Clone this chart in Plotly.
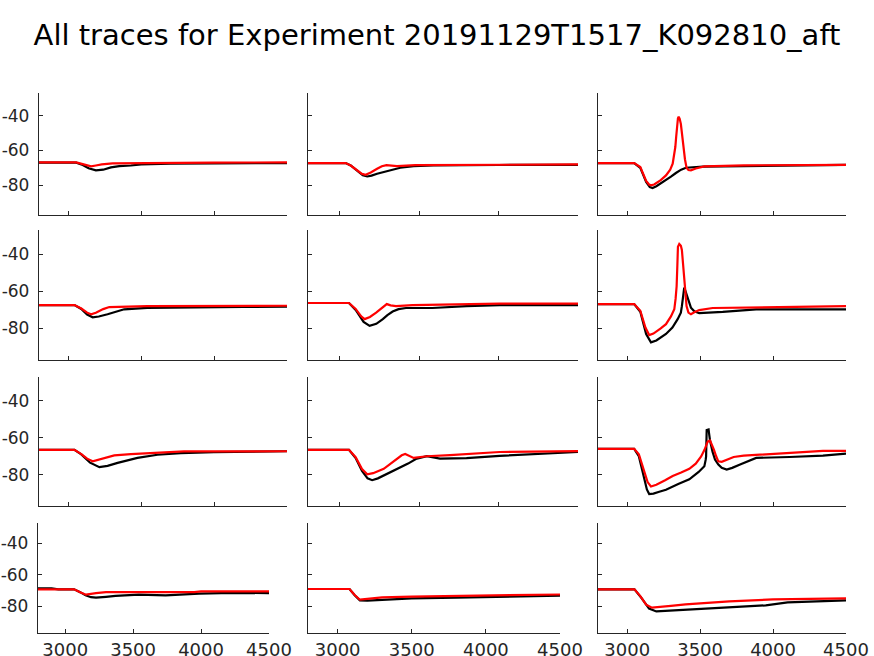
import plotly.graph_objects as go

TITLE = "All traces for Experiment 20191129T1517_K092810_aft"
X_TICKS = [3000, 3500, 4000, 4500]
X_TICK_TEXT = ["3000", "3500", "4000", "4500"]
Y_TICKS = [-80, -60, -40]
Y_TICK_TEXT = ["-80", "-60", "-40"]
X_RANGE = [2800, 4500]
Y_RANGE = [-97, -27]

# ---- data ----
# row 1
r1c1_black_x = [2800, 3055, 3100, 3140, 3190, 3240, 3293, 3350, 3430, 3500, 3700, 4000, 4300, 4500]
r1c1_black_y = [-67, -67, -68.3, -70.2, -71.4, -71.0, -69.7, -69.0, -68.6, -68.0, -67.6, -67.5, -67.2, -67.2]
r1c1_red_x = [2800, 3055, 3100, 3130, 3157, 3190, 3230, 3305, 3500, 4000, 4500]
r1c1_red_y = [-66.8, -66.8, -67.8, -68.7, -69.1, -68.6, -68.0, -67.4, -67.4, -67.0, -66.8]

r1c2_black_x = [2800, 3037, 3069, 3110, 3145, 3173, 3200, 3235, 3298, 3381, 3465, 3590, 4000, 4500]
r1c2_black_y = [-67.2, -67.2, -68.6, -71.6, -74.2, -74.9, -74.4, -73.3, -71.8, -69.9, -69.0, -68.6, -68.3, -68.2]
r1c2_red_x = [2800, 3037, 3069, 3110, 3140, 3163, 3195, 3235, 3265, 3294, 3330, 3360, 3475, 4000, 4500]
r1c2_red_y = [-67.2, -67.2, -68.6, -71.5, -73.4, -73.9, -72.6, -70.5, -69.0, -68.4, -68.9, -69.0, -68.4, -68.1, -68.0]

r1c3_black_x = [2800, 3048, 3090, 3130, 3155, 3174, 3200, 3266, 3300, 3334, 3370, 3403, 3520, 3800, 4200, 4500]
r1c3_black_y = [-67.2, -67.2, -70.0, -78.0, -81.0, -81.5, -80.5, -77.1, -75.0, -72.9, -71.0, -69.9, -69.3, -69.0, -68.6, -68.2]
r1c3_red_x = [2800, 3048, 3090, 3130, 3150, 3163, 3185, 3230, 3266, 3295, 3312, 3322, 3330, 3336, 3342, 3348, 3353,
              3360, 3368, 3377, 3386, 3396, 3407, 3420, 3437, 3470, 3529, 3800, 4500]
r1c3_red_y = [-67.2, -67.2, -69.5, -77.5, -79.5, -80.0, -79.5, -77.0, -74.3, -71.0, -67.6, -63.0, -58.0, -52.0, -44.8, -41.5, -40.6,
              -41.8, -44.8, -52.0, -58.0, -65.0, -69.9, -71.2, -71.4, -70.3, -69.1, -68.5, -68.2]

# row 2
r2c1_black_x = [2800, 3043, 3090, 3130, 3168, 3210, 3270, 3330, 3384, 3542, 3883, 4200, 4500]
r2c1_black_y = [-67.4, -67.4, -69.5, -72.5, -74.0, -73.6, -72.4, -70.8, -69.7, -68.9, -68.5, -68.4, -68.3]
r2c1_red_x = [2800, 3043, 3090, 3130, 3157, 3190, 3240, 3282, 3542, 4000, 4500]
r2c1_red_y = [-67.4, -67.4, -69.3, -71.5, -72.4, -71.6, -69.6, -68.5, -68.0, -67.8, -67.8]

r2c2_black_x = [2800, 3058, 3100, 3150, 3188, 3230, 3271, 3300, 3333, 3370, 3417, 3583, 3798, 4006, 4500]
r2c2_black_y = [-66.3, -66.3, -70.0, -76.5, -78.6, -77.5, -75.0, -72.8, -70.9, -69.6, -69.0, -69.0, -68.0, -67.5, -67.4]
r2c2_red_x = [2800, 3058, 3100, 3135, 3156, 3190, 3229, 3265, 3296, 3320, 3354, 3458, 3798, 4006, 4500]
r2c2_red_y = [-66.3, -66.3, -69.5, -73.5, -75.0, -73.8, -71.5, -68.8, -66.9, -67.6, -68.0, -67.5, -66.9, -66.6, -66.6]

r2c3_black_x = [2800, 3048, 3090, 3130, 3163, 3200, 3266, 3310, 3346, 3360, 3368, 3375, 3380, 3386, 3391, 3398,
                3407, 3420, 3437, 3460, 3494, 3655, 3884, 4500]
r2c3_black_y = [-66.9, -66.9, -71.0, -83.0, -87.5, -86.5, -83.0, -79.5, -75.0, -73.0, -71.5, -68.0, -64.4, -60.0, -58.1, -59.5,
                -61.7, -65.5, -68.8, -70.8, -71.8, -71.1, -69.7, -69.7]
r2c3_red_x = [2800, 3048, 3090, 3125, 3151, 3180, 3230, 3266, 3300, 3323, 3332, 3339, 3344, 3348, 3357, 3368, 3375,
              3383, 3391, 3400, 3407, 3420, 3437, 3460, 3494, 3586, 4500]
r2c3_red_y = [-66.9, -66.9, -70.5, -79.5, -83.6, -82.8, -80.0, -77.7, -73.5, -69.7, -64.0, -57.3, -46.0, -36.0, -34.5, -35.5, -37.7,
              -45.0, -53.7, -63.0, -68.0, -71.5, -72.4, -71.3, -70.1, -69.0, -68.0]

# row 3
r3c1_black_x = [2800, 3043, 3090, 3150, 3214, 3270, 3339, 3400, 3475, 3612, 3771, 3999, 4500]
r3c1_black_y = [-66.5, -66.5, -69.0, -73.5, -75.9, -75.2, -73.6, -72.3, -70.9, -69.2, -68.3, -67.8, -67.3]
r3c1_red_x = [2800, 3043, 3090, 3130, 3168, 3220, 3270, 3316, 3430, 3612, 3794, 4111, 4500]
r3c1_red_y = [-66.5, -66.5, -68.8, -71.3, -72.7, -71.6, -70.3, -69.5, -68.8, -67.9, -67.4, -67.4, -67.3]

r3c2_black_x = [2800, 3058, 3100, 3140, 3175, 3204, 3240, 3277, 3330, 3381, 3430, 3479, 3548, 3631, 3798, 4006, 4500]
r3c2_black_y = [-66.5, -66.5, -71.0, -78.0, -82.0, -83.0, -82.0, -80.4, -78.5, -76.3, -74.0, -71.5, -70.0, -71.3, -71.0, -69.8, -67.7]
r3c2_red_x = [2800, 3058, 3100, 3140, 3173, 3210, 3277, 3320, 3360, 3390, 3412, 3440, 3465, 3548, 3694, 4006, 4500]
r3c2_red_y = [-66.5, -66.5, -70.5, -77.0, -79.8, -79.2, -76.8, -74.0, -71.5, -69.5, -68.8, -70.0, -70.9, -70.0, -69.4, -67.7, -67.2]

r3c3_black_x = [2800, 3048, 3080, 3110, 3135, 3151, 3180, 3220, 3266, 3350, 3426, 3490, 3529, 3538, 3541, 3545, 3558,
                3562, 3568, 3585, 3602, 3625, 3648, 3682, 3720, 3774, 3830, 3884, 4113, 4342, 4500]
r3c3_black_y = [-66.0, -66.0, -70.0, -79.0, -88.0, -90.5, -90.3, -89.3, -88.2, -85.0, -82.5, -78.5, -75.4, -72.0, -70.1, -55.8, -55.5,
                -58.0, -61.5, -67.5, -71.8, -74.5, -76.3, -77.2, -76.3, -74.5, -72.5, -70.9, -70.4, -69.7, -68.6]
r3c3_red_x = [2800, 3048, 3080, 3110, 3140, 3163, 3200, 3260, 3312, 3370, 3426, 3470, 3507, 3530, 3552, 3568, 3580,
              3595, 3610, 3624, 3648, 3690, 3730, 3799, 4113, 4342, 4500]
r3c3_red_y = [-66.0, -66.0, -69.0, -76.0, -84.0, -86.4, -85.5, -83.0, -80.7, -78.8, -76.8, -74.0, -70.1, -66.5, -62.1, -61.5, -63.5,
              -66.5, -70.0, -72.7, -73.0, -71.6, -70.4, -69.7, -68.0, -67.1, -67.1]

# row 4
r4c1_black_x = [2800, 2900, 2950, 3066, 3110, 3150, 3190, 3227, 3300, 3370, 3542, 3739, 3985, 4231, 4500]
r4c1_black_y = [-68.6, -68.6, -69.2, -69.2, -71.0, -73.0, -74.2, -74.5, -74.0, -73.4, -72.6, -73.0, -72.0, -71.5, -71.6]
r4c1_red_x = [2800, 3066, 3110, 3153, 3227, 3300, 3950, 4000, 4500]
r4c1_red_y = [-69.2, -69.2, -71.0, -72.6, -71.6, -71.0, -71.0, -70.5, -70.5]

r4c2_black_x = [2800, 3080, 3115, 3150, 3200, 3300, 3500, 3800, 4000, 4300, 4500]
r4c2_black_y = [-69.0, -69.0, -73.0, -76.2, -76.4, -76.0, -75.0, -74.5, -74.2, -73.6, -73.3]
r4c2_red_x = [2800, 3080, 3115, 3150, 3200, 3300, 3500, 3800, 4100, 4500]
r4c2_red_y = [-69.0, -69.0, -72.8, -75.8, -75.3, -74.3, -73.8, -73.3, -72.8, -72.5]

r4c3_black_x = [2800, 3050, 3100, 3150, 3200, 3260, 3400, 3700, 3950, 4100, 4473, 4500]
r4c3_black_y = [-69.2, -69.2, -75.0, -81.5, -83.3, -83.0, -82.0, -80.7, -79.4, -77.5, -76.2, -76.2]
r4c3_red_x = [2800, 3050, 3090, 3130, 3170, 3220, 3300, 3400, 3700, 4000, 4500]
r4c3_red_y = [-69.2, -69.2, -73.5, -79.0, -80.9, -80.6, -79.8, -78.8, -76.9, -75.6, -75.0]

panels = [
    [(r1c1_black_x, r1c1_black_y, r1c1_red_x, r1c1_red_y),
     (r1c2_black_x, r1c2_black_y, r1c2_red_x, r1c2_red_y),
     (r1c3_black_x, r1c3_black_y, r1c3_red_x, r1c3_red_y)],
    [(r2c1_black_x, r2c1_black_y, r2c1_red_x, r2c1_red_y),
     (r2c2_black_x, r2c2_black_y, r2c2_red_x, r2c2_red_y),
     (r2c3_black_x, r2c3_black_y, r2c3_red_x, r2c3_red_y)],
    [(r3c1_black_x, r3c1_black_y, r3c1_red_x, r3c1_red_y),
     (r3c2_black_x, r3c2_black_y, r3c2_red_x, r3c2_red_y),
     (r3c3_black_x, r3c3_black_y, r3c3_red_x, r3c3_red_y)],
    [(r4c1_black_x, r4c1_black_y, r4c1_red_x, r4c1_red_y),
     (r4c2_black_x, r4c2_black_y, r4c2_red_x, r4c2_red_y),
     (r4c3_black_x, r4c3_black_y, r4c3_red_x, r4c3_red_y)],
]

# ---- layout geometry (pixels) ----
W, H = 874, 656
row_px = [(93, 215), (230, 360), (377, 506), (523, 633)]
col_px_top = [(39, 287), (308, 578), (598, 846)]
col_px_bottom = [(38, 269), (308, 560), (598, 846)]

AX_COLOR = "#262626"
FONT = "DejaVu Sans"

fig = go.Figure()
layout = dict(
    width=W, height=H,
    margin=dict(l=0, r=0, t=0, b=0, autoexpand=False),
    paper_bgcolor="white", plot_bgcolor="white",
    showlegend=False,
    title=dict(text=TITLE, x=0.5, xanchor="center", y=1 - 35 / H, yanchor="middle",
               font=dict(family=FONT, size=29, color="black")),
    font=dict(family=FONT, size=18, color=AX_COLOR),
)

k = 0
for r in range(4):
    for c in range(3):
        k += 1
        bx, by, rx, ry = panels[r][c]
        xname = "x" if k == 1 else f"x{k}"
        yname = "y" if k == 1 else f"y{k}"
        fig.add_trace(go.Scatter(x=bx, y=by, mode="lines", xaxis=xname, yaxis=yname,
                                 line=dict(color="black", width=2.2)))
        fig.add_trace(go.Scatter(x=rx, y=ry, mode="lines", xaxis=xname, yaxis=yname,
                                 line=dict(color="#ff0000", width=2.2)))
        cols = col_px_bottom if r == 3 else col_px_top
        x0, x1 = cols[c]
        y0, y1 = row_px[r]
        xkey = "xaxis" if k == 1 else f"xaxis{k}"
        ykey = "yaxis" if k == 1 else f"yaxis{k}"
        layout[xkey] = dict(
            domain=[x0 / W, x1 / W], anchor=yname, range=X_RANGE, automargin=False,
            tickmode="array", tickvals=X_TICKS, ticktext=X_TICK_TEXT, showticklabels=(r == 3),
            ticks="inside", ticklen=4, tickcolor=AX_COLOR, showline=True,
            linecolor=AX_COLOR, linewidth=1.3, showgrid=False, zeroline=False,
            tickfont=dict(family=FONT, size=18, color=AX_COLOR), ticklabelstandoff=0,
        )
        layout[ykey] = dict(
            domain=[1 - y1 / H, 1 - y0 / H], anchor=xname, range=Y_RANGE, automargin=False,
            tickmode="array", tickvals=Y_TICKS, ticktext=Y_TICK_TEXT, showticklabels=(c == 0),
            ticks="inside", ticklen=4, tickcolor=AX_COLOR, showline=True,
            linecolor=AX_COLOR, linewidth=1.3, showgrid=False, zeroline=False,
            tickfont=dict(family=FONT, size=17, color=AX_COLOR), ticklabelstandoff=5,
        )

fig.update_layout(**layout)
fig.write_html("out.html")
